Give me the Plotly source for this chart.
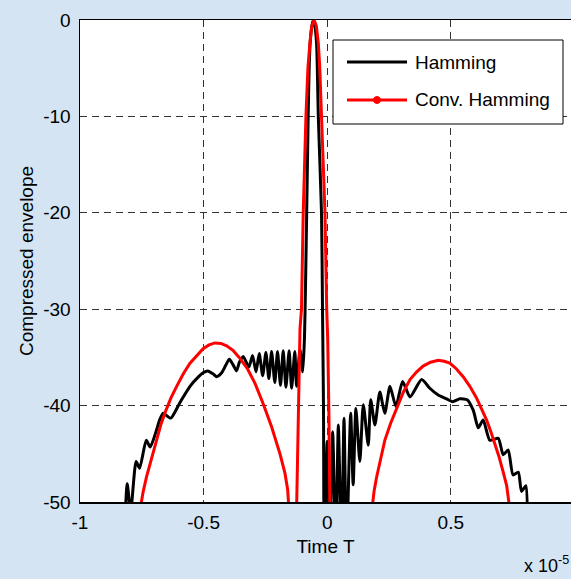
import plotly.graph_objects as go

# ---- data (time in units of 1e-5, envelope in dB) ----
hamming_x = [
    -0.822, -0.809, -0.795, -0.773, -0.759, -0.732, -0.716, -0.690, -0.678, -0.663,
    -0.633, -0.596, -0.555, -0.520, -0.502, -0.483, -0.462, -0.447, -0.427, -0.410,
    -0.396, -0.380, -0.367, -0.355,
    -0.340, -0.317, -0.302, -0.288, -0.275, -0.261, -0.248, -0.236, -0.225, -0.212,
    -0.201, -0.189, -0.178, -0.167, -0.154, -0.144, -0.131, -0.124, -0.110, -0.099,
    -0.092, -0.088, -0.083, -0.077, -0.073, -0.069, -0.062, -0.056, -0.050, -0.043,
    -0.040, -0.036, -0.023, -0.019, -0.015, -0.012,
    0.000, 0.011, 0.022, 0.035, 0.045, 0.058, 0.068, 0.078, 0.095, 0.105,
    0.116, 0.132, 0.146, 0.166, 0.176, 0.193, 0.213, 0.233, 0.254, 0.278,
    0.305, 0.335, 0.382, 0.415, 0.449, 0.483, 0.507, 0.537, 0.566, 0.591,
    0.611, 0.631, 0.658, 0.692, 0.712, 0.732, 0.752, 0.773, 0.786, 0.804, 0.809,
]
hamming_y = [
    -55.0, -48.1, -51.0, -45.8, -46.5, -43.6, -44.3, -42.5, -41.5, -40.8,
    -41.3, -39.7, -38.0, -37.0, -36.6, -36.4, -36.7, -37.0, -36.6, -35.8,
    -35.2, -35.8, -36.4, -35.5,
    -34.9, -36.0, -34.8, -36.5, -34.6, -36.9, -34.5, -37.2, -34.4, -37.6,
    -34.4, -37.9, -34.3, -38.1, -34.3, -38.2, -34.4, -38.0, -34.2, -36.5,
    -33.0, -28.0, -20.0, -10.0, -5.0, -2.4, -0.6, 0.0, -0.6, -2.4,
    -5.0, -10.0, -20.0, -30.0, -40.0, -55.0,
    -43.7, -55.0, -42.7, -55.0, -42.0, -55.0, -41.3, -55.0, -40.8, -48.2,
    -40.3, -45.8, -39.9, -44.1, -39.4, -42.0, -38.6, -40.8, -38.0, -40.1,
    -37.5, -39.1, -37.3, -38.2, -38.9, -39.3, -39.6, -39.3, -39.4, -40.5,
    -42.3, -41.5, -43.6, -43.4, -45.1, -44.6, -47.2, -46.9, -48.9, -48.3, -55.0,
]

conv_x = [
    -0.758, -0.745, -0.731, -0.714, -0.697, -0.672, -0.654, -0.632, -0.609, -0.582,
    -0.555, -0.528, -0.502, -0.478, -0.454, -0.430, -0.407, -0.380, -0.353, -0.322,
    -0.292, -0.259, -0.225, -0.191, -0.171, -0.160, -0.154,
    None,
    -0.124, -0.117, -0.110, -0.104, -0.097, -0.086, -0.078, -0.070, -0.062, -0.053,
    -0.044, -0.036, -0.030, -0.023, -0.009, -0.002, 0.002, 0.007, 0.011,
    None,
    0.180, 0.190, 0.200, 0.216, 0.233, 0.257, 0.281, 0.308, 0.335, 0.362,
    0.388, 0.418, 0.449, 0.473, 0.496, 0.523, 0.550, 0.577, 0.604, 0.625,
    0.645, 0.662, 0.678, 0.695, 0.712, 0.726, 0.740,
]
conv_y = [
    -51.0, -49.0, -47.4, -45.8, -44.3, -41.9, -40.6, -39.2, -38.0, -36.7,
    -35.6, -34.8, -34.1, -33.7, -33.5, -33.55, -33.8, -34.3, -35.1, -36.2,
    -37.7, -39.8, -42.2, -45.0, -47.0, -48.7, -51.0,
    None,
    -51.0, -41.0, -32.0, -30.0, -20.0, -10.0, -5.0, -2.4, -0.6, 0.0,
    -0.6, -2.4, -5.0, -10.0, -20.0, -30.0, -33.0, -41.0, -51.0,
    None,
    -51.0, -48.8, -47.4, -45.4, -43.6, -41.8, -40.2, -38.6, -37.3, -36.5,
    -35.9, -35.5, -35.3, -35.4, -35.6, -36.2, -37.0, -38.0, -39.2, -40.3,
    -41.5, -42.7, -43.9, -45.3, -46.9, -48.3, -51.0,
]

x_tickvals = [-1, -0.5, 0, 0.5]
x_ticktext = ["-1", "-0.5", "0", "0.5"]
y_tickvals = [0, -10, -20, -30, -40, -50]
y_ticktext = ["0", "-10", "-20", "-30", "-40", "-50"]
series_names = ["Hamming", "Conv. Hamming"]
series_colors = ["#000000", "#ff0000"]

FONT = "Liberation Sans, Arial, sans-serif"
BG = "#d4e4f3"
W, H = 571, 579
L, R, T, B = 80, 0, 20, 77
PW, PH = W - L - R, H - T - B


def px(xp):
    return (xp - L) / PW


def py(yp):
    return (H - B - yp) / PH


fig = go.Figure()
fig.add_trace(go.Scatter(x=hamming_x, y=hamming_y, mode="lines", name=series_names[0],
                         line=dict(color=series_colors[0], width=3, shape="spline", smoothing=0.6),
                         showlegend=False))
fig.add_trace(go.Scatter(x=conv_x, y=conv_y, mode="lines", name=series_names[1],
                         line=dict(color=series_colors[1], width=3), connectgaps=False,
                         showlegend=False))

# custom legend box (MATLAB style)
shapes = [
    dict(type="rect", xref="paper", yref="paper", x0=px(333), x1=px(563), y0=py(124), y1=py(40),
         line=dict(color="black", width=1), fillcolor="white", layer="above"),
    dict(type="line", xref="paper", yref="paper", x0=px(347), x1=px(407), y0=py(62), y1=py(62),
         line=dict(color=series_colors[0], width=3), layer="above"),
    dict(type="line", xref="paper", yref="paper", x0=px(347), x1=px(407), y0=py(100), y1=py(100),
         line=dict(color=series_colors[1], width=3), layer="above"),
    dict(type="circle", xref="paper", yref="paper", x0=px(373.5), x1=px(380.5), y0=py(103.5), y1=py(96.5),
         line=dict(color=series_colors[1], width=1), fillcolor=series_colors[1], layer="above"),
]
annotations = [
    dict(xref="paper", yref="paper", x=px(413), y=py(62), text=series_names[0], showarrow=False,
         xanchor="left", yanchor="middle", font=dict(family=FONT, size=19, color="black")),
    dict(xref="paper", yref="paper", x=px(413), y=py(100), text=series_names[1], showarrow=False,
         xanchor="left", yanchor="middle", font=dict(family=FONT, size=19, color="black")),
    dict(xref="paper", yref="paper", x=px(522), y=py(578), text="x 10<sup>-5</sup>", showarrow=False,
         xanchor="left", yanchor="bottom", font=dict(family=FONT, size=18, color="black")),
]

grid = dict(showgrid=True, gridcolor="#333333", gridwidth=1, griddash="7px,5px")

fig.update_layout(
    width=W, height=H,
    margin=dict(l=L, r=R, t=T, b=B, pad=0, autoexpand=False),
    paper_bgcolor=BG,
    plot_bgcolor="white",
    font=dict(family=FONT, size=19, color="black"),
    showlegend=False,
    shapes=shapes,
    annotations=annotations,
    xaxis=dict(range=[-1, -1 + PW / 247.2], tickvals=x_tickvals, ticktext=x_ticktext,
               showline=True, linecolor="black", linewidth=1.5, mirror=True, zeroline=False,
               ticks="", ticklabelstandoff=3, automargin=False,
               title=dict(text="Time T", standoff=7, font=dict(size=19)), **grid),
    yaxis=dict(range=[-50, 0], tickvals=y_tickvals, ticktext=y_ticktext,
               showline=True, linecolor="black", linewidth=1.5, mirror=True, zeroline=False,
               ticks="", ticklabelstandoff=4, automargin=False,
               title=dict(text="Compressed envelope", standoff=4, font=dict(size=19)), **grid),
)

fig.write_html(
    "out.html",
    config={"displayModeBar": False, "staticPlot": True},
    post_script="document.body.style.margin='0';document.body.style.background='" + BG + "';"
                "document.documentElement.style.overflow='hidden';",
)
